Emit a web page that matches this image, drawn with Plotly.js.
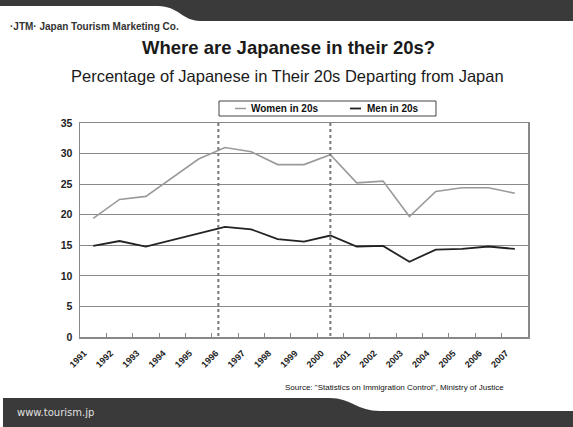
<!DOCTYPE html>
<html>
<head>
<meta charset="utf-8">
<script src="https://cdn.plot.ly/plotly-3.0.1.min.js"></script>
<style>html,body{margin:0;padding:0;background:#fff;}#chart{width:573px;height:427px;}</style>
</head>
<body>
<div id="chart"></div>
<script>
const years = ["1991","1992","1993","1994","1995","1996","1997","1998","1999","2000","2001","2002","2003","2004","2005","2006","2007"];
const women = [19.4, 22.5, 23.0, 26.1, 29.1, 31.0, 30.3, 28.2, 28.2, 29.8, 25.2, 25.5, 19.7, 23.8, 24.4, 24.4, 23.5];
const men = [14.9, 15.7, 14.8, 15.9, 17.0, 18.0, 17.6, 16.0, 15.6, 16.6, 14.8, 14.9, 12.3, 14.3, 14.4, 14.8, 14.4];
const seriesNames = ["Women in 20s", "Men in 20s"];
const seriesColors = ['#9a9a9a', '#222222'];
const markerYears = [4.75, 9];

const W = 573, H = 427, ml = 80, mr = 45, mt = 123, mb = 90;
const pw = W - ml - mr, ph = H - mt - mb;
const fx = x => +((x - ml) / pw).toFixed(4);
const fy = y => +((H - mb - y) / ph).toFixed(4);
const FONT = '"Liberation Sans", Arial, sans-serif';

const headerPath = `M${fx(0)},${fy(0)} L${fx(573)},${fy(0)} L${fx(573)},${fy(21)} L${fx(200)},${fy(21)} C${fx(183)},${fy(21)} ${fx(178)},${fy(6)} ${fx(158)},${fy(6)} L${fx(0)},${fy(6)} Z`;
const footerPath = `M${fx(3)},${fy(398)} L${fx(330)},${fy(398)} C${fx(350)},${fy(398)} ${fx(358)},${fy(411)} ${fx(380)},${fy(411)} L${fx(573)},${fy(411)} L${fx(573)},${fy(427)} L${fx(3)},${fy(427)} Z`;

const traces = [
  {x: years, y: women, name: seriesNames[0], type: 'scatter', mode: 'lines',
   line: {color: seriesColors[0], width: 1.6}, showlegend: false},
  {x: years, y: men, name: seriesNames[1], type: 'scatter', mode: 'lines',
   line: {color: seriesColors[1], width: 1.8}, showlegend: false}
];

const shapes = [
  {type: 'path', xref: 'paper', yref: 'paper', path: headerPath, fillcolor: '#3a3a3a', line: {width: 0}, layer: 'below'},
  {type: 'path', xref: 'paper', yref: 'paper', path: footerPath, fillcolor: '#3a3a3a', line: {width: 0}, layer: 'below'},
  {type: 'rect', xref: 'paper', yref: 'paper', x0: fx(219), x1: fx(436), y0: fy(101), y1: fy(116),
   line: {color: '#444', width: 1}, fillcolor: '#fff'},
  {type: 'line', xref: 'paper', yref: 'paper', x0: fx(235), x1: fx(246), y0: fy(108.5), y1: fy(108.5),
   line: {color: seriesColors[0], width: 1.5}},
  {type: 'line', xref: 'paper', yref: 'paper', x0: fx(350), x1: fx(361), y0: fy(108.5), y1: fy(108.5),
   line: {color: seriesColors[1], width: 1.8}}
];
markerYears.forEach(v => shapes.push({
  type: 'line', xref: 'x', yref: 'y', x0: v, x1: v, y0: -1.8, y1: 35,
  line: {color: '#777', width: 2, dash: 'dot'}
}));

const layout = {
  width: W, height: H,
  margin: {l: ml, r: mr, t: mt, b: mb},
  paper_bgcolor: '#fff', plot_bgcolor: '#fff',
  font: {family: FONT, color: '#222'},
  showlegend: false,
  xaxis: {type: 'category', range: [-0.5, 16.5], tickson: 'boundaries', ticks: 'inside', ticklen: 4,
          tickcolor: '#888', tickwidth: 1, showgrid: false, showline: true, linecolor: '#888', linewidth: 1.5,
          mirror: true, tickangle: -45, ticklabelshift: -9, ticklabelstandoff: 6,
          tickfont: {family: FONT, size: 9, weight: 'bold', color: '#222'}, fixedrange: true},
  yaxis: {range: [0, 35], dtick: 5, showgrid: true, gridcolor: '#8a8a8a', gridwidth: 1, showline: true,
          linecolor: '#888', linewidth: 1.5, mirror: true, ticks: '', zeroline: false,
          tickfont: {family: FONT, size: 10.5, weight: 'bold', color: '#222'}, ticklabelstandoff: 4},
  shapes: shapes,
  annotations: [
    {xref: 'paper', yref: 'paper', x: fx(288), y: fy(48), text: 'Where are Japanese in their 20s?', showarrow: false,
     font: {family: FONT, size: 18.5, weight: 'bold', color: '#1a1a1a'}, xanchor: 'center', yanchor: 'middle'},
    {xref: 'paper', yref: 'paper', x: fx(287), y: fy(76), text: 'Percentage of Japanese in Their 20s Departing from Japan', showarrow: false,
     font: {family: FONT, size: 16.5, color: '#1a1a1a'}, xanchor: 'center', yanchor: 'middle'},
    {xref: 'paper', yref: 'paper', x: fx(249), y: fy(108.5), text: seriesNames[0], showarrow: false,
     font: {family: FONT, size: 10, weight: 'bold', color: '#111'}, xanchor: 'left', yanchor: 'middle'},
    {xref: 'paper', yref: 'paper', x: fx(365), y: fy(108.5), text: seriesNames[1], showarrow: false,
     font: {family: FONT, size: 10, weight: 'bold', color: '#111'}, xanchor: 'left', yanchor: 'middle'},
    {xref: 'paper', yref: 'paper', x: fx(8), y: fy(27), text: '·JTM· Japan Tourism Marketing Co.', showarrow: false,
     font: {family: FONT, size: 10, weight: 'bold', color: '#333'}, xanchor: 'left', yanchor: 'middle'},
    {xref: 'paper', yref: 'paper', x: fx(506), y: fy(388), text: 'Source: "Statistics on Immigration Control", Ministry of Justice', showarrow: false,
     font: {family: FONT, size: 8, color: '#111'}, xanchor: 'right', yanchor: 'middle'},
    {xref: 'paper', yref: 'paper', x: fx(15), y: fy(413), text: 'www.tourism.jp', showarrow: false,
     font: {size: 10, color: '#e0e0e0', family: 'DejaVu Sans, sans-serif'}, xanchor: 'left', yanchor: 'middle'}
  ]
};

Plotly.newPlot('chart', traces, layout, {displayModeBar: false, staticPlot: true});
</script>
</body>
</html>
